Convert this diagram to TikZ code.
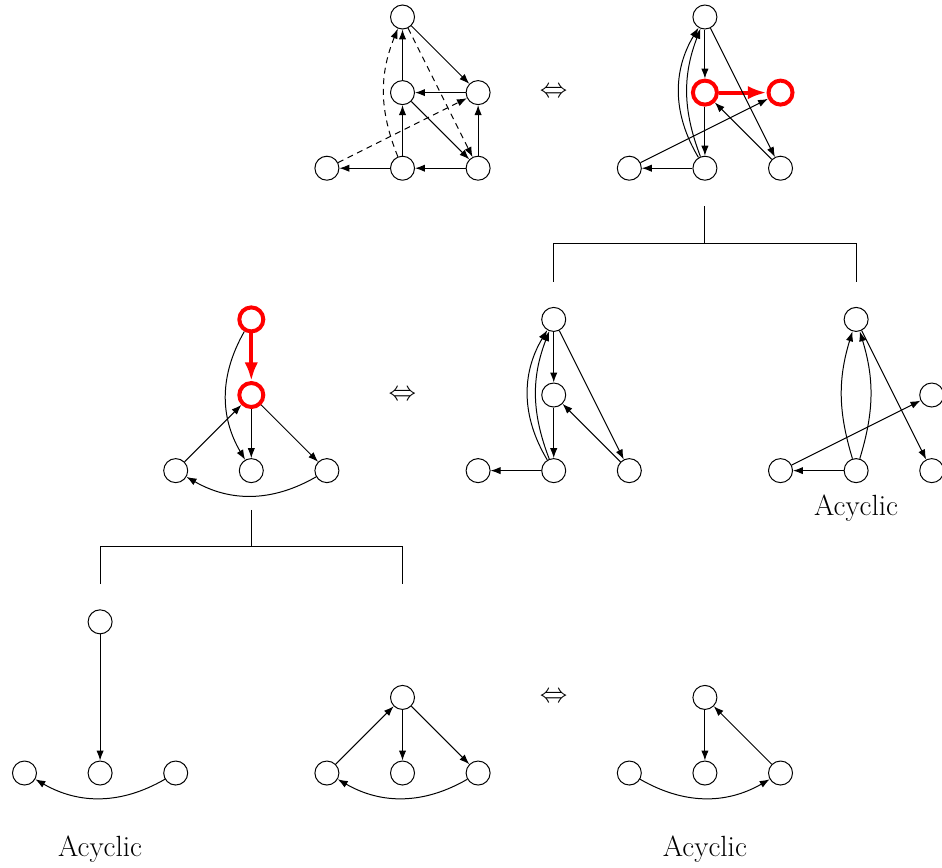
\documentclass[tikz,border=0pt]{standalone}
\usetikzlibrary{arrows.meta}
\tikzset{
 vtx/.style={circle, draw, line width=0.75pt, minimum size=0.635cm, inner sep=0pt},
 redv/.style={vtx, draw=red, line width=3pt},
 edge/.style={-{Latex[length=7.5pt,width=5.5pt]}, line width=0.75pt},
 redge/.style={-{Latex[length=14pt,width=10pt]}, draw=red, line width=3pt},
 dedge/.style={edge, dash pattern=on 4.5pt off 3.5pt},
 tree/.style={line width=0.75pt},
 lab/.style={font=\fontsize{22}{26}\selectfont, inner sep=0pt}
}
\begin{document}
\begin{tikzpicture}[x=2cm,y=2cm]
\useasboundingbox (-0.324,-11.243) rectangle (12.136,0.225);
% Graph A (top left)
\node[vtx] (a1) at (5,0) {};
\node[vtx] (a2) at (5,-1) {};
\node[vtx] (a3) at (6,-1) {};
\node[vtx] (a4) at (4,-2) {};
\node[vtx] (a5) at (5,-2) {};
\node[vtx] (a6) at (6,-2) {};
\draw[edge] (a2) -- (a1);
\draw[edge] (a1) -- (a3);
\draw[edge] (a3) -- (a2);
\draw[edge] (a2) -- (a6);
\draw[edge] (a5) -- (a2);
\draw[edge] (a6) -- (a3);
\draw[edge] (a6) -- (a5);
\draw[edge] (a5) -- (a4);
\draw[dedge] (a5) to[bend left=22] (a1);
\draw[dedge] (a1) -- (a6);
\draw[dedge] (a4) -- (a3);
\node[lab] (eq1) at (7,-1) {$\Leftrightarrow$};
% Graph B (top right)
\node[vtx] (b1) at (9,0) {};
\node[redv] (b2) at (9,-1) {};
\node[redv] (b3) at (10,-1) {};
\node[vtx] (b4) at (8,-2) {};
\node[vtx] (b5) at (9,-2) {};
\node[vtx] (b6) at (10,-2) {};
\draw[edge] (b1) -- (b2);
\draw[redge] (b2) -- (b3);
\draw[edge] (b2) -- (b5);
\draw[edge] (b1) -- (b6);
\draw[edge] (b5) to[bend left=31] (b1);
\draw[edge] (b5) to[bend left=21] (b1);
\draw[edge] (b5) -- (b4);
\draw[edge] (b4) -- (b3);
\draw[edge] (b6) -- (b2);
% top bracket
\coordinate (t0) at (9,-2.5);
\coordinate (t1) at (9,-3);
\coordinate (tl) at (7,-3);
\coordinate (tr) at (11,-3);
\coordinate (tld) at (7,-3.5);
\coordinate (trd) at (11,-3.5);
\draw[tree] (t0) -- (t1);
\draw[tree] (tld) -- (tl) -- (tr) -- (trd);
% Graph C (middle left)
\node[redv] (c1) at (3,-4) {};
\node[redv] (c2) at (3,-5) {};
\node[vtx] (c3) at (2,-6) {};
\node[vtx] (c4) at (3,-6) {};
\node[vtx] (c5) at (4,-6) {};
\draw[redge] (c1) -- (c2);
\draw[edge] (c1) to[bend right=30] (c4);
\draw[edge] (c3) -- (c2);
\draw[edge] (c2) -- (c4);
\draw[edge] (c2) -- (c5);
\draw[edge] (c5) to[bend left=30] (c3);
\node[lab] (eq2) at (5,-5) {$\Leftrightarrow$};
% Graph D (middle centre)
\node[vtx] (d1) at (7,-4) {};
\node[vtx] (d2) at (7,-5) {};
\node[vtx] (d3) at (6,-6) {};
\node[vtx] (d4) at (7,-6) {};
\node[vtx] (d5) at (8,-6) {};
\draw[edge] (d1) -- (d2);
\draw[edge] (d2) -- (d4);
\draw[edge] (d1) -- (d5);
\draw[edge] (d5) -- (d2);
\draw[edge] (d4) -- (d3);
\draw[edge] (d4) to[bend left=31] (d1);
\draw[edge] (d4) to[bend left=21] (d1);
% Graph E (middle right)
\node[vtx] (e1) at (11,-4) {};
\node[vtx] (e2) at (12,-5) {};
\node[vtx] (e3) at (10,-6) {};
\node[vtx] (e4) at (11,-6) {};
\node[vtx] (e5) at (12,-6) {};
\draw[edge] (e4) to[bend left=17] (e1);
\draw[edge] (e4) to[bend right=17] (e1);
\draw[edge] (e1) -- (e5);
\draw[edge] (e3) -- (e2);
\draw[edge] (e4) -- (e3);
\node[lab] (acy1) at (11,-6.5) {Acyclic};
% middle bracket
\coordinate (m0) at (3,-6.52);
\coordinate (m1) at (3,-7);
\coordinate (ml) at (1,-7);
\coordinate (mr) at (5,-7);
\coordinate (mld) at (1,-7.5);
\coordinate (mrd) at (5,-7.5);
\draw[tree] (m0) -- (m1);
\draw[tree] (mld) -- (ml) -- (mr) -- (mrd);
% Graph F (bottom left)
\node[vtx] (f1) at (1,-8) {};
\node[vtx] (f2) at (0,-10) {};
\node[vtx] (f3) at (1,-10) {};
\node[vtx] (f4) at (2,-10) {};
\draw[edge] (f1) -- (f3);
\draw[edge] (f4) to[bend left=30] (f2);
\node[lab] (acy2) at (1,-11) {Acyclic};
% Graph G (bottom centre)
\node[vtx] (g1) at (5,-9) {};
\node[vtx] (g2) at (4,-10) {};
\node[vtx] (g3) at (5,-10) {};
\node[vtx] (g4) at (6,-10) {};
\draw[edge] (g2) -- (g1);
\draw[edge] (g1) -- (g3);
\draw[edge] (g1) -- (g4);
\draw[edge] (g4) to[bend left=30] (g2);
\node[lab] (eq3) at (7,-9) {$\Leftrightarrow$};
% Graph H (bottom right)
\node[vtx] (h1) at (9,-9) {};
\node[vtx] (h2) at (8,-10) {};
\node[vtx] (h3) at (9,-10) {};
\node[vtx] (h4) at (10,-10) {};
\draw[edge] (h1) -- (h3);
\draw[edge] (h4) -- (h1);
\draw[edge] (h2) to[bend right=30] (h4);
\node[lab] (acy3) at (9,-11) {Acyclic};
\end{tikzpicture}
\end{document}
